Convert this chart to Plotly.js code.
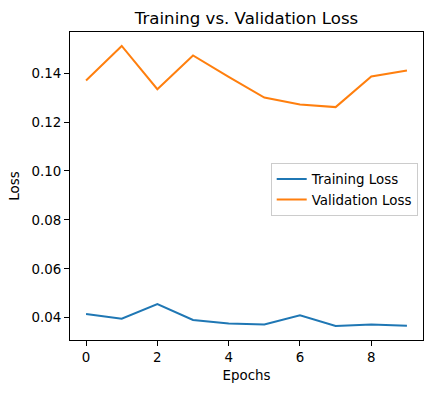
<!DOCTYPE html>
<html>
<head>
<meta charset="utf-8">
<script src="https://cdn.plot.ly/plotly-3.0.1.min.js"></script>
<style>html,body{margin:0;padding:0;background:#fff;}#chart{width:432px;height:393px;}</style>
</head>
<body>
<div id="chart"></div>
<script>
const epochs = [0, 1, 2, 3, 4, 5, 6, 7, 8, 9];
const trainingLoss = [0.0415, 0.0396, 0.0456, 0.0391, 0.0376, 0.0372, 0.0410, 0.0366, 0.0372, 0.0367];
const validationLoss = [0.1370, 0.1511, 0.1334, 0.1472, 0.1385, 0.1300, 0.1272, 0.1261, 0.1386, 0.1411];
const yTicks = [0.04, 0.06, 0.08, 0.10, 0.12, 0.14];
const xTicks = [0, 2, 4, 6, 8];

const font = {family: 'DejaVu Sans', size: 13.4, color: '#000'};
const axisCommon = {
  showline: true, linecolor: '#000', linewidth: 1, mirror: true,
  ticks: 'outside', ticklen: 5, tickwidth: 1, tickcolor: '#000',
  showgrid: false, zeroline: false, tickfont: font
};

Plotly.newPlot('chart', [
  {x: epochs, y: trainingLoss, mode: 'lines', name: 'Training Loss', line: {color: '#1f77b4', width: 2}},
  {x: epochs, y: validationLoss, mode: 'lines', name: 'Validation Loss', line: {color: '#ff7f0e', width: 2}}
], {
  width: 432, height: 393,
  margin: {l: 70, r: 9.3, t: 32.3, b: 53, pad: 0},
  paper_bgcolor: '#fff', plot_bgcolor: '#fff',
  font: font,
  title: {text: 'Training vs. Validation Loss', font: {family: 'DejaVu Sans', size: 16.6, color: '#000'},
          x: 0.5, xref: 'paper', xanchor: 'center', y: 1 - 18/393, yref: 'container', yanchor: 'middle'},
  xaxis: Object.assign({}, axisCommon, {
    range: [-0.45, 9.45], tickmode: 'array', tickvals: xTicks, ticktext: xTicks.map(String),
    title: {text: 'Epochs', font: font, standoff: 6}
  }),
  yaxis: Object.assign({}, axisCommon, {
    range: [0.0309, 0.1568], tickmode: 'array', tickvals: yTicks, ticktext: yTicks.map(v => v.toFixed(2)),
    title: {text: 'Loss', font: font, standoff: 8}
  }),
  showlegend: true,
  legend: {x: 0.985, xanchor: 'right', y: 0.575, yanchor: 'top', bgcolor: 'rgba(255,255,255,0.8)',
           bordercolor: '#cccccc', borderwidth: 1, font: font}
}, {displayModeBar: false, staticPlot: true});
</script>
</body>
</html>
